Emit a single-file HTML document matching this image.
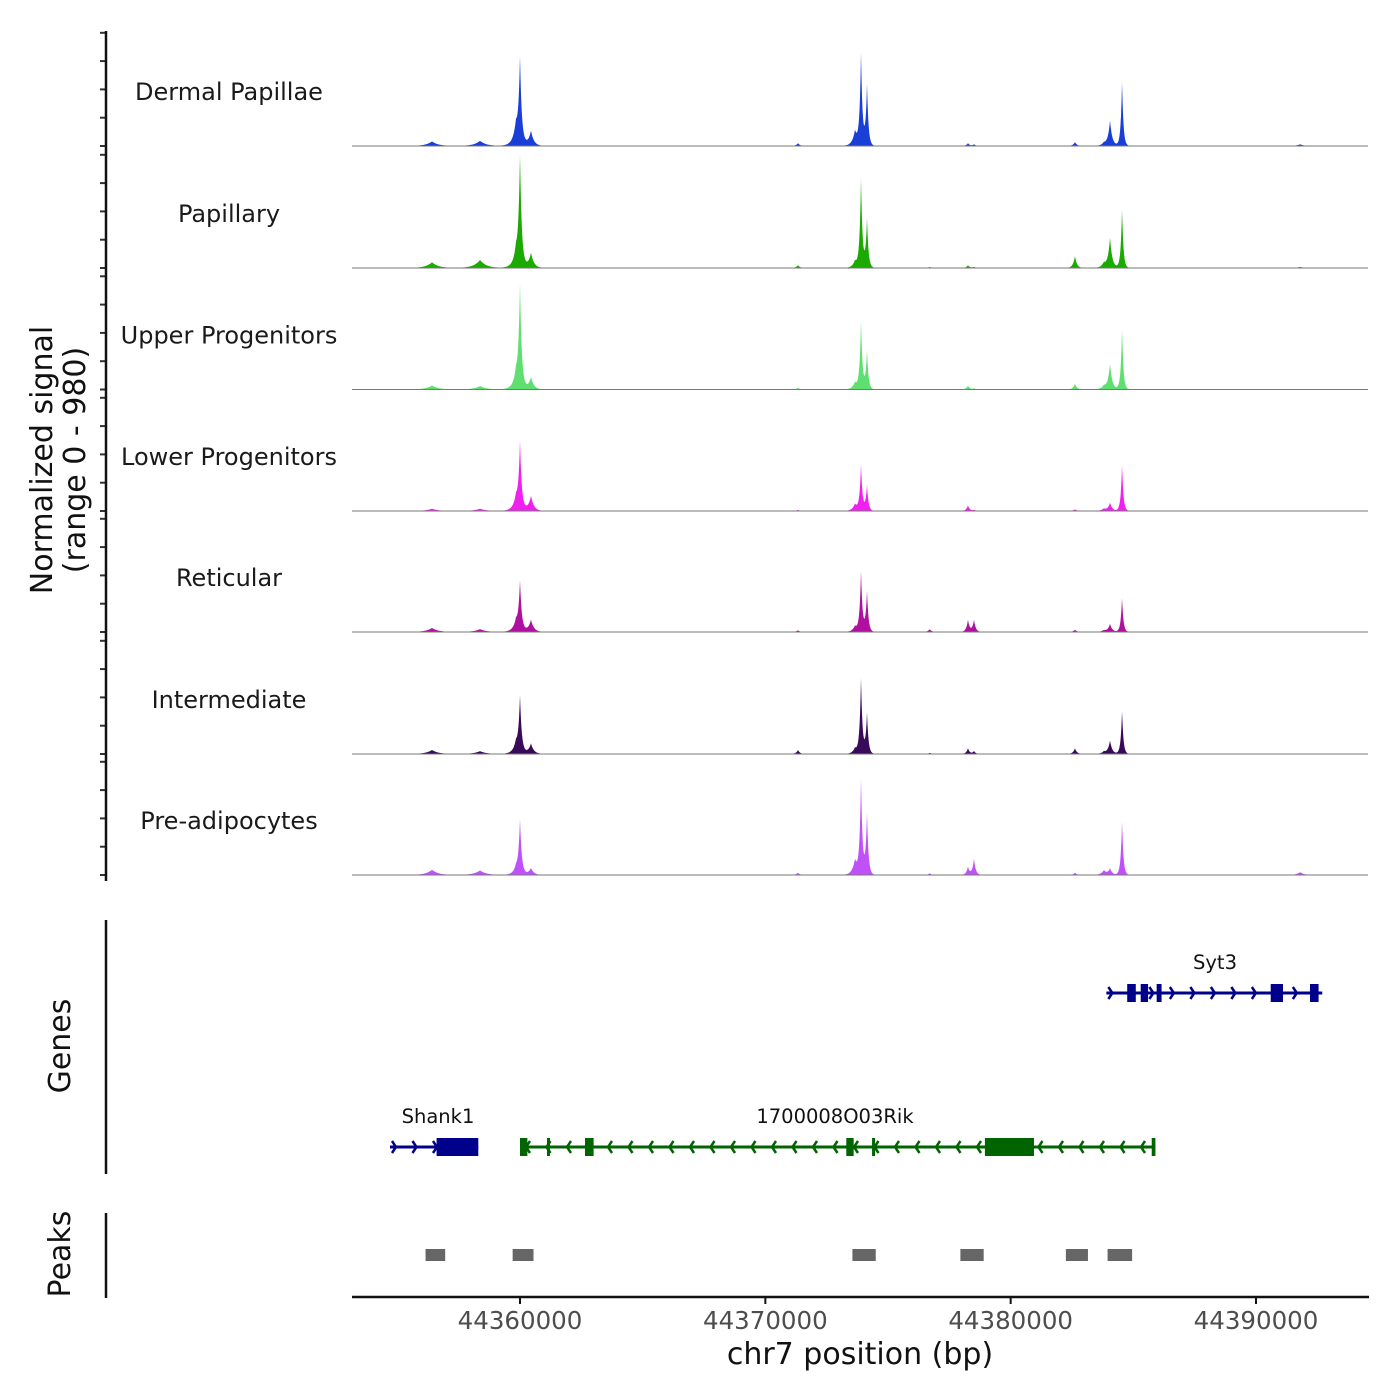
<!DOCTYPE html>
<html><head><meta charset="utf-8"><style>
html,body{margin:0;padding:0;background:#fff;}
svg{display:block;font-family:"DejaVu Sans","Liberation Sans",sans-serif;}
</style></head><body>
<svg id="chart" width="1400" height="1400" viewBox="0 0 1400 1400" xmlns="http://www.w3.org/2000/svg">
<g id="tracks"></g>
<g id="genes"></g>
<g id="peaks"></g>
<g id="axes"></g>
</svg>
<script>
// ---- data ----
const trackNames = ["Dermal Papillae","Papillary","Upper Progenitors","Lower Progenitors","Reticular","Intermediate","Pre-adipocytes"];
const trackColors = ["#1a3fd6","#1aaa00","#5fdf6f","#f020f0","#b0109f","#3a0a5a","#c050f8"];
// peak centres (bp)
const peakPos = [44356413,44358370,44359837,44360000,44360448,44371330,44373655,44373900,44374144,44376700,44378260,44378505,44382620,44383800,44384050,44384540,44391800];
// peak widths (bp)
const peakWidth = [250,250,150,70,120,80,120,60,60,80,70,70,80,120,90,55,150];
// per-track peak heights (signal, 0-980)
const heights = [
 [40,45,170,720,130,25,130,790,525,0,25,15,35,25,220,570,15],
 [50,70,140,945,130,25,60,770,420,10,25,10,105,40,260,525,10],
 [35,30,130,875,105,15,60,585,330,5,35,10,50,30,220,540,5],
 [20,20,110,570,130,10,60,395,220,0,50,10,15,20,70,410,5],
 [35,25,90,420,105,15,50,525,350,25,105,105,20,15,70,305,5],
 [35,25,90,480,90,35,50,655,350,10,50,25,50,20,115,385,5],
 [45,40,60,465,60,20,130,815,525,15,70,140,20,40,55,480,25]
];
const xTicks = [44360000,44370000,44380000,44390000];
const xTickLabels = ["44360000","44370000","44380000","44390000"];
const peakRegions = [[44356150,44356950],[44359700,44360550],[44373550,44374500],[44377950,44378900],[44382250,44383150],[44383950,44384950]];
const genes = [
 {name:"Syt3",strand:1,start:44383900,end:44392700,row:0,color:"#00008b",exons:[[44384750,44385100],[44385300,44385600],[44385950,44386150],[44390600,44391100],[44392200,44392550]]},
 {name:"Shank1",strand:1,start:44354700,end:44358300,row:1,color:"#00008b",exons:[[44356600,44358300]]},
 {name:"1700008O03Rik",strand:-1,start:44360000,end:44385900,row:1,color:"#006400",exons:[[44360000,44360300],[44361100,44361200],[44362650,44363000],[44373300,44373600],[44374350,44374450],[44378950,44380950],[44385750,44385900]]}
];
const yMax = 980;
// ---- scales ----
const X0=352,X1=1368, BP0=44353152, PXPB=736/30000;
function xs(bp){return X0+(bp-BP0)*PXPB;}
function xinv(px){return BP0+(px-X0)/PXPB;}
const baselines=[146,268,389.5,511,632,754,875];
const trackH=113;
function ys(v,i){return baselines[i]-v/yMax*trackH;}
const NS="http://www.w3.org/2000/svg";
function mk(tag,attrs,parent){const e=document.createElementNS(NS,tag);for(const k in attrs)e.setAttribute(k,attrs[k]);parent.appendChild(e);return e;}
const gT=document.getElementById('tracks'),gG=document.getElementById('genes'),gP=document.getElementById('peaks'),gA=document.getElementById('axes');
// ---- tracks ----
trackNames.forEach((name,i)=>{
  const g=mk('g',{},gT);
  
  
  let d='M'+X0+','+baselines[i];
  for(let px=X0;px<=X1;px+=0.5){
    const bp=xinv(px);let v=0;
    peakPos.forEach((c,j)=>{const h=heights[i][j];if(!h)return;const dd=Math.abs(bp-c);
      v+=h*Math.exp(-dd/peakWidth[j]);});
    v=Math.min(v,yMax);
    d+='L'+px.toFixed(1)+','+ys(v,i).toFixed(2);
  }
  d+='L'+X1+','+baselines[i]+'Z';
  const a=mk('path',{d:d,fill:trackColors[i],stroke:'none'},g);
  
  
  const bl=mk('line',{x1:X0,x2:X1,y1:baselines[i],y2:baselines[i],stroke:'#777','stroke-width':1},g);
  
  
  const t=mk('text',{x:229,y:baselines[i]-46,'text-anchor':'middle','font-size':24,fill:'#1a1a1a'},g);
  t.textContent=name;
  
  
  for(let k=0;k<5;k++){
    const yy=baselines[i]-k*28.3;
    const tk=mk('line',{x1:100,x2:106,y1:yy,y2:yy,stroke:'#333','stroke-width':2},gA);
    
    
  }
});
// ---- genes ----
genes.forEach(gn=>{
  const y=gn.row===0?993:1147;
  const g=mk('g',{},gG);
  
  
  mk('line',{x1:xs(gn.start),x2:xs(gn.end),y1:y,y2:y,stroke:gn.color,'stroke-width':3},g);
  const sx=xs(gn.start),ex=xs(gn.end);
  for(let px=sx+6;px<ex-4;px+=20.5){
    const s=gn.strand;
    mk('polyline',{points:(px-4*s)+','+(y-6)+' '+px+','+y+' '+(px-4*s)+','+(y+6),fill:'none',stroke:gn.color,'stroke-width':2.5},g);
  }
  gn.exons.forEach(e=>{
    const r=mk('rect',{x:xs(e[0]),y:y-9,width:Math.max(3,xs(e[1])-xs(e[0])),height:18,fill:gn.color},g);
    
    
  });
  const lx=gn.name==="Syt3"?1215:(gn.name==="Shank1"?438:835);
  const t=mk('text',{x:lx,y:y-24,'text-anchor':'middle','font-size':19.5,fill:'#111'},g);
  t.textContent=gn.name;
  
  
});
// ---- peaks ----
peakRegions.forEach(p=>{
  const r=mk('rect',{x:xs(p[0]),y:1249,width:xs(p[1])-xs(p[0]),height:12,fill:'#666'},gP);
  
  
});
// ---- axes ----
function line(x1,y1,x2,y2,name,w){const l=mk('line',{x1,y1,x2,y2,stroke:'#111','stroke-width':w||2.5},gA);}
line(106,31,106,881,'y-axis-signal');
line(106,920,106,1174,'y-axis-genes');
line(106,1213,106,1298,'y-axis-peaks');
line(352,1297,1369,1297,'x-axis-line');
xTicks.forEach((t,i)=>{
  const x=xs(t);
  line(x,1297,x,1304,'x-tick',2);
  const tx=mk('text',{x:x,y:1329,'text-anchor':'middle','font-size':24.5,fill:'#4d4d4d'},gA);
  tx.textContent=xTickLabels[i];
  
  
});
function txt(s,x,y,size,rot,name){const t=mk('text',{x,y,'text-anchor':'middle','font-size':size,fill:'#111',transform:rot?`rotate(-90 ${x} ${y})`:''},gA);t.textContent=s;}
txt('chr7 position (bp)',860,1364,30,false,'x-axis-title');
txt('Normalized signal',52,460,30,true,'y-axis-title');
txt('(range 0 - 980)',85,460,30,true,'y-axis-subtitle');
txt('Genes',70,1046,30,true,'genes-axis-title');
txt('Peaks',70,1254,30,true,'peaks-axis-title');
</script>
</body></html>
